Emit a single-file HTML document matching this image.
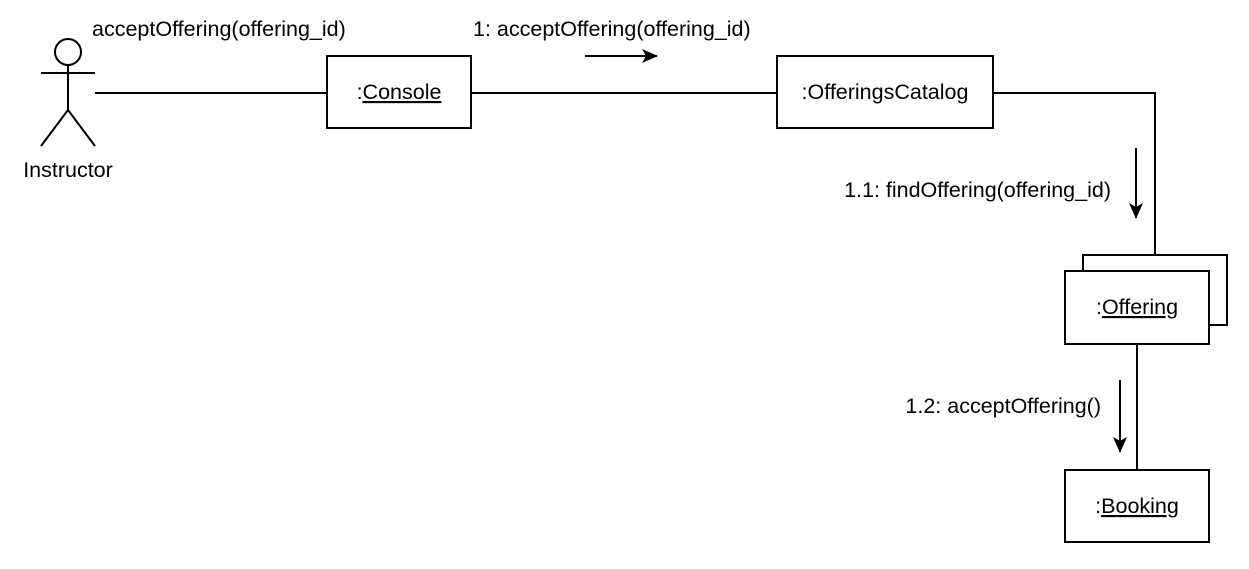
<!DOCTYPE html>
<html><head><meta charset="utf-8"><style>
html,body{margin:0;padding:0;background:#fff;}
svg{display:block;}
text{font-family:"Liberation Sans",Arial,sans-serif;font-size:21.5px;fill:#000;}
</style></head><body>
<svg width="1249" height="569" viewBox="0 0 1249 569" xmlns="http://www.w3.org/2000/svg">
<defs>
<marker id="b" viewBox="0 0 16 14" markerWidth="16" markerHeight="14" refX="15" refY="7" orient="auto" markerUnits="userSpaceOnUse"><path d="M0,0 L16,7 L0,14 L4,7 z" fill="#000"/></marker></defs>
<g stroke="#000" stroke-width="2" fill="none">
<circle cx="68" cy="52" r="13" fill="#fff"/>
<line x1="68" y1="65" x2="68" y2="110"/>
<line x1="41" y1="73" x2="95" y2="73"/>
<line x1="68" y1="110" x2="41" y2="146"/>
<line x1="68" y1="110" x2="95" y2="146"/>
<line x1="95" y1="93" x2="327" y2="93"/>
<rect x="327" y="56" width="144" height="72"/>
<line x1="471" y1="93" x2="777" y2="93"/>
<line x1="585" y1="56" x2="657" y2="56" marker-end="url(#b)"/>
<rect x="777" y="56" width="216" height="72"/>
<polyline points="993,93 1155,93 1155,255"/>
<line x1="1136" y1="148" x2="1136" y2="218" marker-end="url(#b)"/>
<rect x="1083" y="255" width="144" height="70"/>
<rect x="1065" y="271" width="144" height="73" fill="#fff"/>
<line x1="1137" y1="344" x2="1137" y2="470"/>
<line x1="1120" y1="380" x2="1120" y2="452" marker-end="url(#b)"/>
<rect x="1065" y="470" width="144" height="72"/>
</g>
<text x="68" y="177" text-anchor="middle">Instructor</text>
<text x="92" y="36">acceptOffering(offering_id)</text>
<text x="473" y="36">1: acceptOffering(offering_id)</text>
<text x="399" y="99" text-anchor="middle">:<tspan text-decoration="underline">Console</tspan></text>
<text x="885" y="99" text-anchor="middle">:OfferingsCatalog</text>
<text x="1111" y="197" text-anchor="end">1.1: findOffering(offering_id)</text>
<text x="1137" y="314" text-anchor="middle">:<tspan text-decoration="underline">Offering</tspan></text>
<text x="1101" y="413" text-anchor="end">1.2: acceptOffering()</text>
<text x="1137" y="513" text-anchor="middle">:<tspan text-decoration="underline">Booking</tspan></text>
</svg>
</body></html>
